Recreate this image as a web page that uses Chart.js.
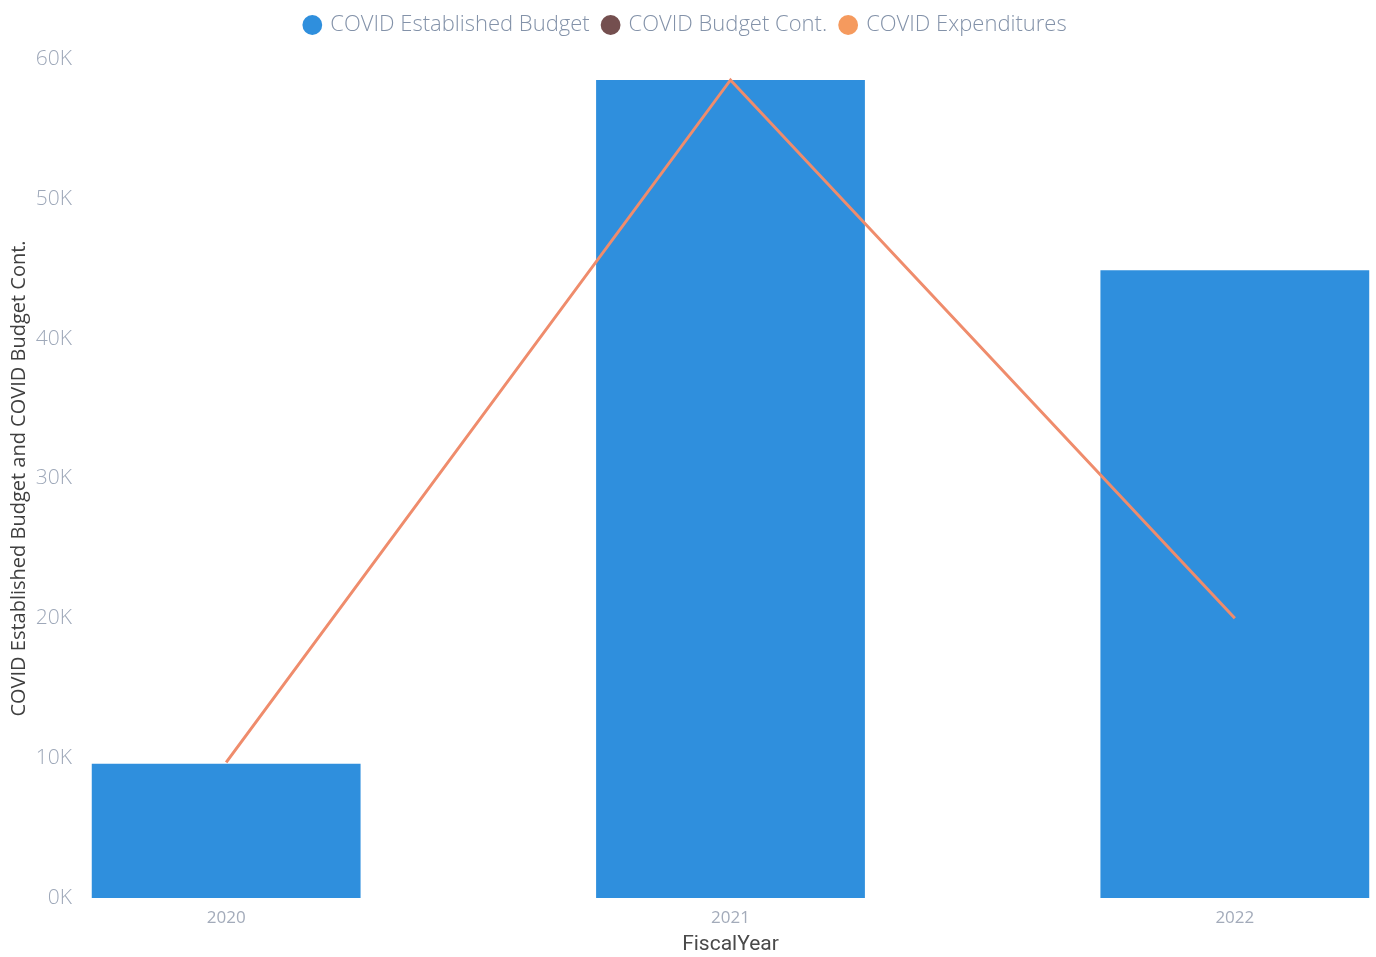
<!DOCTYPE html>
<html>
<head>
<meta charset="utf-8">
<script src="https://cdn.jsdelivr.net/npm/chart.js@4.4.1/dist/chart.umd.min.js"></script>
<style>
  html, body { margin: 0; padding: 0; background: #fff; }
  #wrap { width: 1376px; height: 957px; }
</style>
</head>
<body>
<div id="wrap"><canvas id="myChart"></canvas></div>
<script>
// fiscal years and the three series
const years = [2020, 2021, 2022]
const establishedBudget = [9600, 58500, 44900]
const budgetCont = [null, null, null]
const expenditures = [9700, 58500, 20000]
const yTicks = [0, 10000, 20000, 30000, 40000, 50000, 60000]

const blue = '#2f8fdd'
const brown = '#744f4f'
const orange = '#f59a5e'
const lineColor = '#ef8c6c'

const $ctx = document.getElementById('myChart').getContext('2d')

const datos = {
  labels: years,
  datasets: [
    {
      label: 'COVID Established Budget',
      type: 'bar',
      data: years.map((y, i) => ({ x: y, y: establishedBudget[i] })),
      backgroundColor: blue,
      barPercentage: 0.533,
      categoryPercentage: 1,
      order: 2
    },
    {
      label: 'COVID Budget Cont.',
      type: 'line',
      data: years.map((y, i) => ({ x: y, y: budgetCont[i] })),
      backgroundColor: brown,
      borderColor: brown,
      order: 1
    },
    {
      label: 'COVID Expenditures',
      type: 'line',
      data: years.map((y, i) => ({ x: y, y: expenditures[i] })),
      borderColor: lineColor,
      backgroundColor: orange,
      borderWidth: 3,
      pointRadius: 0,
      tension: 0,
      order: 0
    }
  ]
}

const config = {
  type: 'bar',
  data: datos,
  options: {
    responsive: true,
    maintainAspectRatio: false,
    animation: false,
    layout: { padding: { top: 0, right: 4, bottom: 0, left: 0 } },
    plugins: {
      tooltip: { enabled: false },
      legend: {
        position: 'top',
        labels: {
          usePointStyle: true,
          pointStyle: 'circle',
          boxWidth: 14,
          boxHeight: 14,
          padding: 14,
          color: '#8392a9',
          font: { family: 'Open Sans', size: 22, weight: 300 },
          sort: (a, b) => a.datasetIndex - b.datasetIndex,
          generateLabels: chart => {
            const items = Chart.defaults.plugins.legend.labels.generateLabels(chart)
            items.forEach(it => { it.lineWidth = 0; it.strokeStyle = it.fillStyle })
            return items
          }
        }
      }
    },
    scales: {
      x: {
        type: 'linear',
        offset: false,
        min: years[0] - 0.27,
        max: years[years.length - 1] + 0.27,
        grid: { display: false },
        border: { display: false },
        afterBuildTicks: s => { s.ticks = years.map(v => ({ value: v })) },
        afterFit: s => { s.height = 59 },
        ticks: {
          padding: 2,
          color: '#a3abba',
          font: { family: 'Open Sans', size: 17 },
          callback: v => String(v)
        },
        title: {
          display: true,
          text: 'FiscalYear',
          color: '#4a4a4a',
          padding: { top: 0, bottom: 0 },
          font: { family: 'Roboto', size: 21 }
        }
      },
      y: {
        min: 0,
        max: 60000,
        grid: { display: false },
        border: { display: false },
        afterBuildTicks: s => { s.ticks = yTicks.map(v => ({ value: v })) },
        afterFit: s => { s.width = 90 },
        ticks: {
          padding: 10,
          color: '#9ea8b9',
          font: { family: 'Open Sans', size: 21, weight: 300 },
          callback: v => (v / 1000) + 'K'
        },
        title: {
          display: true,
          text: 'COVID Established Budget and COVID Budget Cont.',
          color: '#3f3f3f',
          padding: { top: 7, bottom: 0 },
          font: { family: 'Open Sans', size: 20 }
        }
      }
    }
  },
  plugins: [{
    // extra room under the legend row
    id: 'legendGap',
    beforeInit: chart => {
      if (chart.legend) {
        const orig = chart.legend.fit
        chart.legend.fit = function () { orig.call(this); this.height += 13 }
      }
    }
  }]
}

var mychar = new Chart($ctx, config)
</script>
</body>
</html>
